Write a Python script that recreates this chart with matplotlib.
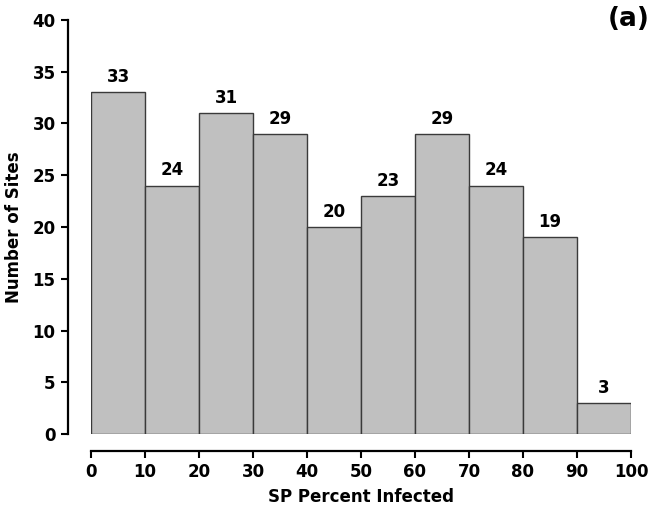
import matplotlib
matplotlib.use('Agg')
import matplotlib.pyplot as plt
import numpy as np

plt.rcParams['font.family'] = 'DejaVu Sans'
plt.rcParams['font.weight'] = 'bold'

bin_edges = [0, 10, 20, 30, 40, 50, 60, 70, 80, 90, 100]
counts = [33, 24, 31, 29, 20, 23, 29, 24, 19, 3]
x_ticks = [0, 10, 20, 30, 40, 50, 60, 70, 80, 90, 100]
y_ticks = [0, 5, 10, 15, 20, 25, 30, 35, 40]

fig = plt.figure(figsize=(6.55, 5.08), dpi=100)
ax = fig.add_axes([91/655, 74/508, 540/655, 414/508])

lefts = np.array(bin_edges[:-1])
widths = np.diff(bin_edges)
ax.bar(lefts, counts, width=widths, align='edge', color='#c0c0c0',
       edgecolor='#3a3a3a', linewidth=1.0)

# count above each bar
for l, w, c in zip(lefts, widths, counts):
    ax.text(l + w / 2, c + 0.6, str(c), ha='center', va='bottom',
            fontsize=12, fontweight='bold')

ax.set_xlim(0, 100)
ax.set_ylim(0, 40)
ax.set_xticks(x_ticks)
ax.set_yticks(y_ticks)
ax.tick_params(labelsize=12, width=1.5, length=5, direction='out', pad=4)
for lab in ax.get_xticklabels() + ax.get_yticklabels():
    lab.set_fontweight('bold')

# R-style detached axes
for s in ['top', 'right']:
    ax.spines[s].set_visible(False)
ax.spines['left'].set_position(('outward', 16.5))
ax.spines['bottom'].set_position(('outward', 12))
ax.spines['left'].set_linewidth(1.6)
ax.spines['bottom'].set_linewidth(1.6)
ax.spines['left'].set_bounds(0, 40)
ax.spines['bottom'].set_bounds(0, 100)

ax.set_xlabel('SP Percent Infected', fontsize=12, fontweight='bold', labelpad=5)
ax.set_ylabel('Number of Sites', fontsize=12, fontweight='bold', labelpad=7)

fig.text(650/655, 1 - 19/508, '(a)', ha='right', va='center',
         fontsize=19, fontweight='bold')

fig.savefig('out.png', dpi=100)
